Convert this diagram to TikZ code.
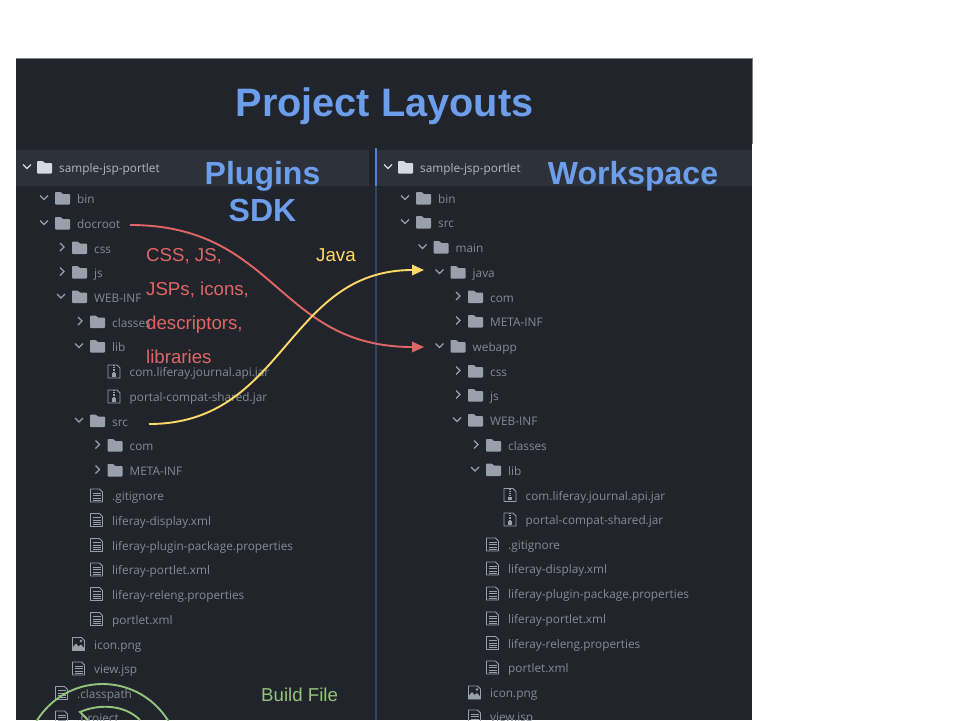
\documentclass[tikz,border=0pt]{standalone}
\usepackage{fontspec}
\setmainfont{Liberation Sans}
\newfontfamily\treefont{Open Sans}
\usetikzlibrary{arrows.meta}
\definecolor{panelbg}{HTML}{21252B}
\definecolor{rootband}{HTML}{2C313A}
\definecolor{dimtext}{HTML}{868B94}
\definecolor{roottext}{HTML}{B4B8C0}
\definecolor{iconfill}{HTML}{9A9FAC}
\definecolor{rootfill}{HTML}{D7DAE0}
\definecolor{headblue}{HTML}{6D9EEB}
\definecolor{mvred}{HTML}{E06666}
\definecolor{mvyellow}{HTML}{FFD966}
\definecolor{mvgreen}{HTML}{93C47D}
\definecolor{dividerblue}{HTML}{2A4763}
\definecolor{activeblue}{HTML}{4A86D8}

\begin{document}
\begin{tikzpicture}[x=1pt,y=-1pt]
\tikzset{treetext/.style={font=\treefont\fontsize{11.8}{14}\selectfont,text=dimtext,anchor=base west,inner sep=0pt,yshift=-4.8pt}}
\tikzset{heading/.style={font=\fontsize{32}{37}\selectfont\bfseries,text=headblue,inner sep=0pt,align=center}}
\tikzset{note/.style={font=\fontsize{18.67}{34}\selectfont,inner sep=0pt,anchor=base west,align=left}}
\tikzset{mover/.style={line width=1.9pt,-{Triangle[length=12pt,width=10.5pt]}}}
% tree row icons, placed relative to the text of the row
\tikzset{pics/foldershape/.style={code={
  \fill[#1,rounded corners=0.8pt] (-22,5.5) -- (-22,-7) -- (-16,-7) -- (-14.5,-5) -- (-7,-5) -- (-7,5.5) -- cycle;}}}
\tikzset{pics/fdown/.style={code={
  \draw[iconfill,line width=1.3pt] (-37,-3.5) -- (-33,0.5) -- (-29,-3.5);
  \pic {foldershape=iconfill};
  \node[treetext] (-t) at (0,0) {#1};}}}
\tikzset{pics/fright/.style={code={
  \draw[iconfill,line width=1.3pt] (-34,-5.5) -- (-30,-1.5) -- (-34,2.5);
  \pic {foldershape=iconfill};
  \node[treetext] (-t) at (0,0) {#1};}}}
\tikzset{pics/froot/.style={code={
  \draw[rootfill,line width=1.3pt] (-36,-3.5) -- (-32,0.5) -- (-28,-3.5);
  \pic {foldershape=rootfill};
  \node[treetext,text=roottext] (-t) at (0,0) {#1};}}}
\tikzset{pics/ffile/.style={code={
  \draw[iconfill,line width=0.9pt,line join=round] (-21.5,6) -- (-21.5,-7) -- (-12.5,-7) -- (-9.5,-4) -- (-9.5,6) -- cycle;
  \foreach \yy in {-3,-0.5,2,4}{\draw[iconfill,line width=0.9pt] (-19.5,\yy) -- (-11.5,\yy);}
  \node[treetext] (-t) at (0,0) {#1};}}}
\tikzset{pics/fzip/.style={code={
  \draw[iconfill,line width=0.9pt,line join=round] (-21.5,6) -- (-21.5,-7) -- (-12.5,-7) -- (-9.5,-4) -- (-9.5,6) -- cycle;
  \draw[iconfill,line width=1.2pt,densely dotted] (-15.5,-7) -- (-15.5,0);
  \fill[iconfill] (-17.5,1) rectangle (-13.5,4.5);
  \node[treetext] (-t) at (0,0) {#1};}}}
\tikzset{pics/fimage/.style={code={
  \draw[iconfill,line width=0.9pt,line join=round] (-21.5,6) -- (-21.5,-7) -- (-12.5,-7) -- (-9.5,-4) -- (-9.5,6) -- cycle;
  \fill[iconfill] (-21.5,6) -- (-21.5,3) -- (-18,-1) -- (-15.5,2) -- (-13,0) -- (-9.5,4) -- (-9.5,6) -- cycle;
  \fill[iconfill] (-13,-3.5) circle (1.3);
  \node[treetext] (-t) at (0,0) {#1};}}}

\useasboundingbox (0,0) rectangle (960,720);
\clip (0,0) rectangle (960,720);

% panels
\fill[panelbg] (16,58) rectangle (752,720);
\draw[gray,line width=0.8pt] (16,58) -- (752,58) -- (752,144);
\fill[rootband] (16,150) rectangle (369,186);
\fill[rootband] (377,150) rectangle (752,186);
\draw[dividerblue,line width=1.2pt] (376,150) -- (376,720);
\draw[activeblue,line width=2.2pt] (376,148) -- (376,186);

\node[heading,font=\fontsize{39.7}{46}\selectfont\bfseries] (title) at (384.5,106) {Project Layouts};

% plugins sdk tree
\pic (lroot) at (59,168) {froot={sample-jsp-portlet}};
\pic (lbin) at (77,199) {fdown={bin}};
\pic (ldocroot) at (77,224) {fdown={docroot}};
\pic (lcss) at (94,248.5) {fright={css}};
\pic (ljs) at (94,273) {fright={js}};
\pic (lwebinf) at (94,297.5) {fdown={WEB-INF}};
\pic (lclasses) at (112,322.5) {fright={classes}};
\pic (llib) at (112,347) {fdown={lib}};
\pic (ljournal) at (129.5,372) {fzip={com.liferay.journal.api.jar}};
\pic (lcompat) at (129.5,397) {fzip={portal-compat-shared.jar}};
\pic (lsrc) at (112,421.5) {fdown={src}};
\pic (lcom) at (129.5,446) {fright={com}};
\pic (lmeta) at (129.5,471) {fright={META-INF}};
\pic (lgit) at (112,496) {ffile={.gitignore}};
\pic (ldisplay) at (112,520.5) {ffile={liferay-display.xml}};
\pic (lplugin) at (112,545.5) {ffile={liferay-plugin-package.properties}};
\pic (lportlet) at (112,570) {ffile={liferay-portlet.xml}};
\pic (lreleng) at (112,594.5) {ffile={liferay-releng.properties}};
\pic (lpxml) at (112,619.5) {ffile={portlet.xml}};
\pic (licon) at (94,644.5) {fimage={icon.png}};
\pic (lview) at (94,669) {ffile={view.jsp}};
\pic (lclasspath) at (77,693.5) {ffile={.classpath}};
\pic (lproject) at (77,718) {ffile={.project}};

% workspace tree
\pic (rroot) at (420,168) {froot={sample-jsp-portlet}};
\pic (rbin) at (438,199) {fdown={bin}};
\pic (rsrc) at (438,223) {fdown={src}};
\pic (rmain) at (455.5,248) {fdown={main}};
\pic (rjava) at (472.5,273) {fdown={java}};
\pic (rcom) at (490,297.5) {fright={com}};
\pic (rmeta) at (490,322) {fright={META-INF}};
\pic (rwebapp) at (472.5,347) {fdown={webapp}};
\pic (rcss) at (490,372) {fright={css}};
\pic (rjs) at (490,396) {fright={js}};
\pic (rwebinf) at (490,421) {fdown={WEB-INF}};
\pic (rclasses) at (508,446) {fright={classes}};
\pic (rlib) at (508,470.5) {fdown={lib}};
\pic (rjournal) at (525.5,495.5) {fzip={com.liferay.journal.api.jar}};
\pic (rcompat) at (525.5,520) {fzip={portal-compat-shared.jar}};
\pic (rgit) at (508,545) {ffile={.gitignore}};
\pic (rdisplay) at (508,569) {ffile={liferay-display.xml}};
\pic (rplugin) at (508,594) {ffile={liferay-plugin-package.properties}};
\pic (rportlet) at (508,619) {ffile={liferay-portlet.xml}};
\pic (rreleng) at (508,643.5) {ffile={liferay-releng.properties}};
\pic (rpxml) at (508,668) {ffile={portlet.xml}};
\pic (ricon) at (490,693) {fimage={icon.png}};
\pic (rview) at (490,717) {ffile={view.jsp}};

% labels on top
\node[heading] (plugins) at (262.5,191.5) {Plugins\\SDK};
\node[heading] (workspace) at (633,176.5) {Workspace};
\node[note,text=mvyellow] (javalab) at (316,261.5) {Java};
\node[note,text=mvgreen] (buildlab) at (261,701) {Build File};
\node[note,text=mvred,anchor=north west] (webnote) at (146,248) {CSS, JS,\\JSPs, icons,\\descriptors,\\libraries};

% moves
\coordinate (redstart) at (130,225);
\coordinate (redend) at (424,347);
\coordinate (yelstart) at (149,424);
\coordinate (yelend) at (424,270);
\draw[mover,mvred] (redstart) .. controls (277,225) and (277,347) .. (redend);
\draw[mover,mvyellow] (yelstart) .. controls (286,424) and (286,270) .. (yelend);

% build file rings
\draw[mvgreen,line width=1.9pt] (102.5,761) circle (77);
\draw[mvgreen,line width=1.9pt] (88,720) -- (80,712) .. controls (98,704) and (124,704) .. (140,720);
\end{tikzpicture}
\end{document}
